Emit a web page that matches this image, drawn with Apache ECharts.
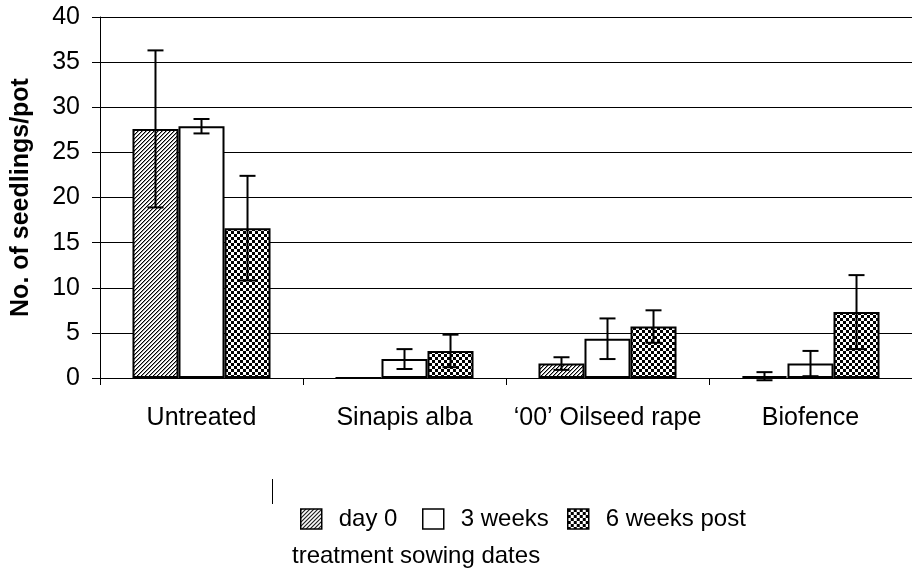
<!DOCTYPE html>
<html><head><meta charset="utf-8">
<script src="https://cdn.jsdelivr.net/npm/echarts@6/dist/echarts.min.js"></script>
<style>html,body{margin:0;padding:0;background:#fff}#c{width:912px;height:570px}</style>
</head><body><div id="c"></div>
<script>
const categories = ['Untreated', 'Sinapis alba', '\u201800\u2019 Oilseed rape', 'Biofence'];
const seriesNames = ['day 0', '3 weeks', '6 weeks post'];
const day0 = [27.6, 0, 1.6, 0.2];
const weeks3 = [27.9, 2.1, 4.35, 1.6];
const weeks6 = [16.6, 3.0, 5.7, 7.3];
const err0 = [8.7, 0, 0.7, 0.45];
const err3 = [0.8, 1.1, 2.25, 1.4];
const err6 = [5.8, 1.8, 1.8, 4.1];
const yTicks = [0, 5, 10, 15, 20, 25, 30, 35, 40];

function hatch() {
  const n = 4;
  const c = document.createElement('canvas'); c.width = n; c.height = n;
  const g = c.getContext('2d');
  const img = g.createImageData(n, n);
  for (let y = 0; y < n; y++) for (let x = 0; x < n; x++) {
    const k = (y * n + x) * 4;
    const d = (x + y) % n;
    const v = d === 0 ? 0 : (d === 1 ? 150 : 255);
    img.data[k] = v; img.data[k + 1] = v; img.data[k + 2] = v; img.data[k + 3] = 255;
  }
  g.putImageData(img, 0, 0);
  return c;
}
function checker() {
  const s = 3, n = 8;
  const c = document.createElement('canvas'); c.width = s * n; c.height = s * n;
  const g = c.getContext('2d');
  g.fillStyle = '#fff'; g.fillRect(0, 0, c.width, c.height);
  g.fillStyle = '#000';
  for (let i = 0; i < n; i++) for (let j = 0; j < n; j++) {
    if ((i + j) % 2 === 0) g.fillRect(i * s, j * s, s, s);
  }
  g.fillStyle = '#fff';
  g.fillRect(3 * s, 4 * s, s, s); g.fillRect(4 * s, 3 * s, s, s);
  g.fillRect(4 * s, 5 * s, s, s); g.fillRect(5 * s, 4 * s, s, s);
  return c;
}
const fills = [{ image: hatch(), repeat: 'repeat' }, '#ffffff', { image: checker(), repeat: 'repeat' }];
const values = [day0, weeks3, weeks6];
const errs = [err0, err3, err6];

const chart = echarts.init(document.getElementById('c'), null, { renderer: 'canvas' });
const GAP = 0.32;
const series = [];
values.forEach((vals, si) => {
  series.push({
    name: seriesNames[si], type: 'bar', data: vals, barGap: 0, barCategoryGap: '32%',
    itemStyle: { color: fills[si], borderColor: '#000', borderWidth: 2 },
    animation: false
  });
});
values.forEach((vals, si) => {
  series.push({
    type: 'custom', name: 'err' + si, silent: true, animation: false, z: 5,
    data: vals.map((v, i) => [i, v - errs[si][i], v + errs[si][i]]),
    renderItem: function (params, api) {
      const band = api.size([1, 0])[0];
      const bw = band * (1 - GAP) / 3;
      const lo = api.coord([api.value(0), api.value(1)]);
      const hi = api.coord([api.value(0), api.value(2)]);
      const x = lo[0] + (si - 1) * bw;
      const hw = 8;
      const st = { stroke: '#000', lineWidth: 2 };
      return { type: 'group', children: [
        { type: 'line', shape: { x1: x, y1: lo[1], x2: x, y2: hi[1] }, style: st },
        { type: 'line', shape: { x1: x - hw, y1: lo[1], x2: x + hw, y2: lo[1] }, style: st },
        { type: 'line', shape: { x1: x - hw, y1: hi[1], x2: x + hw, y2: hi[1] }, style: st }
      ]};
    }
  });
});

const font = 'Liberation Sans, Arial, sans-serif';
const legendCommon = { orient: 'horizontal', itemWidth: 21, itemHeight: 20, icon: 'rect', top: 502,
  textStyle: { fontFamily: font, fontSize: 24, color: '#000', padding: [0, 0, 0, 12] }, selectedMode: false,
  itemStyle: { borderColor: '#000', borderWidth: 1.5 } };

chart.setOption({
  animation: false,
  backgroundColor: '#fff',
  textStyle: { fontFamily: font },
  grid: { left: 100, top: 17, bottom: 192, right: -6, containLabel: false },
  legend: [
    Object.assign({}, legendCommon, { left: 295, data: [seriesNames[0]] }),
    Object.assign({}, legendCommon, { left: 417, data: [seriesNames[1]] }),
    Object.assign({}, legendCommon, { left: 562, data: [seriesNames[2]] })
  ],
  xAxis: {
    type: 'category', data: categories,
    axisLine: { lineStyle: { color: '#000', width: 1 } },
    axisTick: { show: true, length: 7, lineStyle: { color: '#000' } },
    axisLabel: { color: '#000', fontSize: 25, margin: 28, fontFamily: font, interval: 0 },
    splitLine: { show: false }
  },
  yAxis: {
    type: 'value', min: 0, max: 40, interval: 5,
    name: 'No. of seedlings/pot', nameLocation: 'middle', nameGap: 66,
    nameTextStyle: { color: '#000', fontSize: 25, fontWeight: 'bold', fontFamily: font },
    axisLine: { show: true, lineStyle: { color: '#000', width: 1 } },
    axisTick: { show: true, length: 8, lineStyle: { color: '#000' } },
    axisLabel: { color: '#000', fontSize: 25, margin: 20, fontFamily: font,
      formatter: v => yTicks.includes(v) ? String(v) : '' },
    splitLine: { show: true, lineStyle: { color: '#000', width: 1 } }
  },
  graphic: [
    { type: 'line', shape: { x1: 272.5, y1: 479, x2: 272.5, y2: 504 }, style: { stroke: '#000', lineWidth: 1 } },
    { type: 'text', left: 292, top: 544, style: { text: 'treatment sowing dates', fontSize: 24, fontFamily: font, fill: '#000' } }
  ],
  series: series
});
</script></body></html>
